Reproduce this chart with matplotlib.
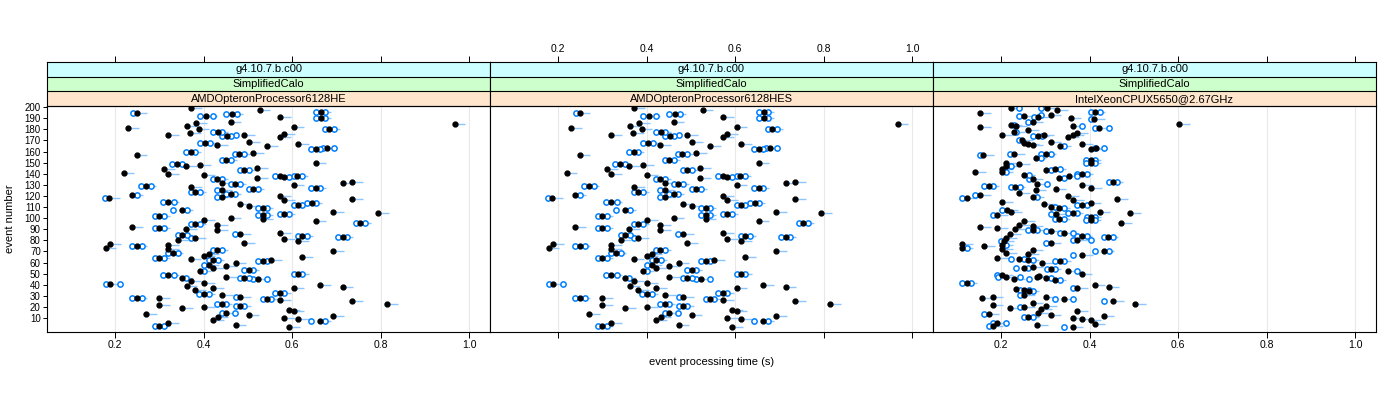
import numpy as np
import matplotlib
matplotlib.use("Agg")
import matplotlib.pyplot as plt

plt.rcParams['font.family'] = ['Liberation Sans', 'DejaVu Sans']

version_label = "g4.10.7.b.c00"
app_label = "SimplifiedCalo"
cpu_labels = ["AMDOpteronProcessor6128HE", "AMDOpteronProcessor6128HES",
              "IntelXeonCPUX5650@2.67GHz"]
x_ticks = [0.2, 0.4, 0.6, 0.8, 1.0]
y_ticks = list(range(10, 201, 10))

# (event, time of black point, left blue circle, right blue circle)
he_rows = [
    (195, 0.249, 0.240, None), (199, 0.372, None, None), (192, 0.406, 0.392, 0.421),
    (194, 0.464, 0.451, 0.475), (187, 0.461, None, None), (197, 0.527, None, None),
    (191, 0.573, None, None), (196, 0.664, 0.653, 0.675), (190, 0.664, 0.653, 0.675),
    (185, 0.967, None, None), (181, 0.230, None, None), (175, 0.320, None, None),
    (183, 0.362, None, None), (186, 0.383, None, None), (177, 0.369, None, None),
    (180, 0.389, None, None), (178, 0.432, 0.421, 0.442), (174, 0.452, 0.442, 0.461),
    (175, 0.492, 0.473, None), (180, 0.684, 0.674, 0.694), (176, 0.582, None, None),
    (173, 0.573, None, None), (182, 0.603, None, None), (168, 0.403, 0.392, 0.415),
    (166, 0.430, None, None), (169, 0.503, None, None), (165, 0.543, None, None),
    (167, 0.613, None, None), (162, 0.653, 0.643, 0.663), (163, 0.678, 0.669, 0.695),
    (157, 0.249, None, None), (160, 0.371, 0.360, 0.381), (158, 0.480, 0.471, 0.492),
    (159, 0.512, None, None), (149, 0.339, 0.328, 0.351), (147, 0.360, None, None),
    (148, 0.392, None, None), (152, 0.451, 0.441, 0.462), (150, 0.653, None, None),
    (141, 0.219, None, None), (144, 0.311, None, None), (140, 0.320, None, None),
    (139, 0.401, None, None), (143, 0.491, 0.481, 0.503), (145, 0.521, None, None),
    (136, 0.521, None, None), (138, 0.573, 0.562, None), (137, 0.582, None, 0.593),
    (138, 0.612, 0.603, 0.623), (135, 0.431, 0.421, 0.442), (132, 0.442, None, None),
    (131, 0.471, 0.461, 0.482), (130, 0.603, None, None), (133, 0.735, None, None),
    (132, 0.714, None, None), (129, 0.269, 0.259, 0.280), (128, 0.372, None, None),
    (124, 0.381, 0.371, 0.392), (126, 0.512, 0.502, 0.522), (127, 0.653, 0.643, 0.663),
    (125, 0.441, 0.431, None), (122, 0.461, 0.451, 0.471), (119, 0.441, 0.431, None),
    (121, 0.239, None, 0.249), (118, 0.187, 0.177, None), (120, 0.573, None, None),
    (116, 0.582, None, None), (112, 0.614, 0.603, 0.623), (114, 0.644, 0.633, 0.654),
    (117, 0.735, None, None), (115, 0.320, 0.309, 0.332), (113, 0.482, None, None),
    (111, 0.503, None, None), (109, 0.533, 0.522, 0.543), (107, 0.351, 0.330, 0.362),
    (106, 0.693, None, None), (105, 0.795, None, None), (104, 0.582, 0.573, 0.593),
    (103, 0.533, 0.522, 0.543), (102, 0.300, 0.290, 0.311), (95, 0.381, 0.371, 0.392),
    (98, 0.401, None, None), (94, 0.431, None, None), (89, 0.431, None, None),
    (100, 0.461, None, None), (99, 0.533, None, None), (97, 0.653, None, None),
    (96, 0.753, 0.744, 0.765), (92, 0.239, None, None), (91, 0.300, 0.290, 0.311),
    (90, 0.360, None, None), (85, 0.351, 0.341, 0.362), (82, 0.381, 0.371, None),
    (80, 0.341, None, None), (86, 0.482, 0.471, None), (78, 0.491, None, None),
    (87, 0.573, None, None), (81, 0.582, None, None), (84, 0.623, 0.613, 0.633),
    (79, 0.613, None, None), (83, 0.714, 0.703, 0.724), (77, 0.189, None, None),
    (73, 0.179, None, None), (75, 0.249, 0.239, 0.260), (76, 0.320, None, None),
    (72, 0.320, None, None), (69, 0.330, 0.320, 0.341), (71, 0.431, 0.421, 0.442),
    (64, 0.300, 0.290, 0.311), (63, 0.371, None, None), (66, 0.401, None, None),
    (68, 0.411, None, None), (62, 0.421, 0.411, 0.432), (58, 0.411, 0.401, None),
    (55, 0.422, None, None), (57, 0.451, None, None), (60, 0.472, None, None),
    (61, 0.533, 0.522, 0.543), (62, 0.552, None, None), (65, 0.622, None, None),
    (70, 0.693, None, None), (53, 0.502, 0.491, 0.512), (52, 0.392, None, 0.401),
    (50, 0.613, 0.603, 0.623), (49, 0.320, 0.309, 0.332), (41, 0.189, 0.179, 0.210),
    (46, 0.351, None, 0.360), (43, 0.371, None, None), (42, 0.401, None, None),
    (47, 0.451, None, None), (46, 0.491, 0.481, 0.502), (45, 0.522, 0.512, 0.543),
    (40, 0.663, None, None), (38, 0.714, None, None), (39, 0.362, None, None),
    (35, 0.381, None, None), (32, 0.401, 0.390, 0.411), (37, 0.421, None, None),
    (31, 0.442, None, None), (29, 0.482, 0.472, None), (33, 0.573, 0.562, 0.582),
    (37, 0.603, None, None), (28, 0.249, 0.239, 0.260), (28, 0.300, None, None),
    (22, 0.300, None, None), (19, 0.351, None, None), (20, 0.401, None, None),
    (23, 0.441, 0.431, 0.451), (21, 0.482, 0.472, 0.491), (27, 0.543, 0.533, 0.552),
    (26, 0.573, None, None), (25, 0.735, None, None), (23, 0.814, None, None),
    (17, 0.593, None, None), (16, 0.603, None, None), (15, 0.451, 0.441, 0.471),
    (14, 0.270, None, None), (13, 0.502, None, None), (8, 0.422, None, None),
    (11, 0.432, None, None), (10, 0.582, None, None), (9, 0.613, None, None),
    (7, 0.663, 0.643, 0.674), (12, 0.693, None, None), (3, 0.300, 0.290, 0.311),
    (6, 0.320, None, None), (4, 0.472, None, None), (2, 0.593, None, None),
]

# the HES machine gives nearly the same times as the HE one
hes_rows = list(he_rows)

xeon_rows = [
    (195, 0.153, None, None), (199, 0.222, None, 0.241), (199, 0.303, 0.290, None),
    (193, 0.312, 0.290, None), (197, 0.327, None, None), (192, 0.252, 0.241, None),
    (187, 0.271, 0.261, None), (191, 0.284, 0.274, None), (190, 0.357, None, None),
    (196, 0.411, 0.402, 0.423), (189, 0.410, 0.402, None), (182, 0.153, None, None),
    (175, 0.202, None, None), (184, 0.222, None, 0.230), (183, 0.234, None, None),
    (178, 0.230, None, 0.234), (179, 0.261, None, None), (174, 0.284, 0.273, 0.293),
    (175, 0.296, None, None), (183, 0.363, None, 0.383), (177, 0.372, None, None),
    (175, 0.363, None, None), (173, 0.351, None, None), (181, 0.422, 0.411, 0.443),
    (185, 0.602, None, None), (170, 0.248, 0.240, None), (168, 0.251, None, None),
    (167, 0.261, None, None), (166, 0.271, None, None), (169, 0.312, None, None),
    (165, 0.333, None, 0.343), (167, 0.383, None, None), (162, 0.402, None, None),
    (163, 0.415, 0.411, 0.433), (157, 0.160, 0.152, None), (158, 0.230, 0.221, None),
    (158, 0.301, 0.290, 0.312), (152, 0.402, 0.391, 0.413), (154, 0.278, None, 0.290),
    (147, 0.211, None, 0.222), (150, 0.211, None, None), (149, 0.241, None, None),
    (142, 0.142, None, None), (142, 0.202, None, 0.211), (144, 0.202, None, None),
    (139, 0.252, None, 0.262), (135, 0.271, 0.262, None), (131, 0.282, None, 0.303),
    (143, 0.302, None, 0.312), (144, 0.322, None, 0.332), (136, 0.331, None, 0.342),
    (138, 0.353, None, 0.372), (140, 0.383, 0.372, 0.393), (150, 0.402, 0.391, 0.413),
    (133, 0.452, 0.443, 0.462), (130, 0.383, None, None), (127, 0.403, None, None),
    (129, 0.172, 0.161, 0.182), (121, 0.152, 0.142, None), (118, 0.122, 0.112, None),
    (128, 0.231, 0.222, 0.243), (123, 0.241, None, None), (125, 0.278, None, None),
    (119, 0.273, None, 0.282), (126, 0.323, None, None), (115, 0.202, None, None),
    (113, 0.297, None, None), (120, 0.352, None, None), (116, 0.363, None, None),
    (112, 0.382, 0.372, 0.393), (114, 0.402, None, None), (117, 0.462, None, None),
    (107, 0.213, 0.202, None), (106, 0.222, None, None), (110, 0.312, None, 0.322),
    (109, 0.331, None, 0.342), (104, 0.323, 0.312, None), (105, 0.362, 0.352, 0.372),
    (106, 0.423, None, None), (105, 0.491, None, None), (103, 0.191, 0.182, None),
    (101, 0.402, 0.393, 0.413), (98, 0.402, 0.391, 0.413), (96, 0.471, None, None),
    (99, 0.331, 0.322, 0.342), (92, 0.152, None, None), (91, 0.191, None, None),
    (90, 0.231, None, None), (97, 0.252, None, None), (94, 0.241, None, None),
    (93, 0.271, None, None), (89, 0.271, 0.261, 0.282), (88, 0.312, 0.302, None),
    (87, 0.342, 0.332, 0.363), (84, 0.382, 0.372, 0.393), (80, 0.372, 0.362, 0.402),
    (83, 0.441, 0.432, 0.452), (86, 0.221, None, None), (82, 0.211, None, None),
    (79, 0.206, 0.199, None), (77, 0.112, None, None), (73, 0.112, None, 0.122),
    (75, 0.161, None, None), (76, 0.202, None, 0.211), (72, 0.202, None, None),
    (69, 0.211, None, None), (78, 0.312, 0.302, None), (71, 0.271, None, None),
    (70, 0.432, 0.411, 0.443), (67, 0.383, 0.362, None), (64, 0.191, None, None),
    (63, 0.241, 0.222, 0.252), (68, 0.261, None, None), (62, 0.261, None, 0.271),
    (60, 0.293, None, None), (61, 0.333, 0.322, 0.343), (55, 0.251, 0.234, 0.261),
    (56, 0.271, None, None), (54, 0.312, 0.303, 0.322), (52, 0.352, None, 0.372),
    (50, 0.382, None, None), (49, 0.202, 0.191, None), (48, 0.286, None, None),
    (42, 0.122, 0.112, 0.131), (47, 0.211, 0.193, 0.243), (45, 0.230, None, 0.262),
    (47, 0.282, None, None), (46, 0.302, None, 0.312), (44, 0.322, None, 0.332),
    (40, 0.411, None, None), (38, 0.443, None, None), (37, 0.372, 0.363, None),
    (36, 0.234, None, None), (35, 0.252, 0.243, 0.262), (34, 0.262, None, 0.271),
    (31, 0.252, 0.243, None), (29, 0.302, None, None), (27, 0.342, 0.321, 0.362),
    (28, 0.157, None, None), (29, 0.181, None, None), (22, 0.181, None, None),
    (19, 0.221, None, None), (20, 0.252, 0.243, None), (24, 0.271, None, None),
    (21, 0.302, None, None), (18, 0.291, None, None), (25, 0.453, 0.432, None),
    (23, 0.503, None, None), (16, 0.372, None, None), (14, 0.172, 0.161, None),
    (11, 0.261, 0.252, 0.271), (15, 0.284, None, None), (13, 0.312, None, None),
    (10, 0.362, None, None), (9, 0.382, None, None), (8, 0.402, None, None),
    (5, 0.411, None, None), (12, 0.432, None, None), (6, 0.191, 0.182, 0.211),
    (3, 0.181, 0.172, None), (4, 0.282, None, None), (2, 0.362, 0.342, None),
]

panel_rows = [he_rows, hes_rows, xeon_rows]

W, H = 1400, 400
left0, pw = 47, 443
top, bottom = 106, 332
strip_top = 62

blue = "#0080ff"
light_blue = "#8cc6ff"
strip_cols = ["#ffe5cc", "#ccffcc", "#ccffff"]

fig = plt.figure(figsize=(W / 100, H / 100), dpi=100)

for i, rows in enumerate(panel_rows):
    arr = np.array([[np.nan if v is None else v for v in r] for r in rows], dtype=float)
    ev, t, lo, hi = arr[:, 0], arr[:, 1], arr[:, 2], arr[:, 3]

    ax = fig.add_axes([(left0 + i * pw) / W, (H - bottom) / H, pw / W, (bottom - top) / H])
    ax.set_xlim(0.046, 1.047)
    ax.set_ylim(-2.5, 201)
    for g in x_ticks:
        ax.axvline(g, color="#e8e8e8", lw=0.8, zorder=0)
    ax.hlines(ev, t - 0.006, t + 0.024, color=light_blue, lw=1.0, zorder=1)
    ax.plot(lo, ev, "o", ms=3.8, mfc="white", mec=blue, mew=1.1, ls="none", zorder=2)
    ax.plot(hi, ev, "o", ms=3.8, mfc="white", mec=blue, mew=1.1, ls="none", zorder=2)
    ax.plot(t, ev, "o", ms=3.5, color="black", mec="black", ls="none", zorder=3)

    ax.set_xticks(x_ticks)
    ax.tick_params(axis="both", direction="out", length=4, width=0.7, labelsize=7.5, pad=2)
    if i == 1:
        ax.set_xticklabels([])
    else:
        ax.set_xticklabels(["%.1f" % v for v in x_ticks])
    ax.set_yticks(y_ticks)
    if i == 0:
        ax.set_yticklabels([str(v) for v in y_ticks], fontsize=7)
        ax.tick_params(axis="y", length=3, pad=1.5)
    else:
        ax.tick_params(axis="y", left=False, labelleft=False)
    for s in ax.spines.values():
        s.set_linewidth(0.8)

    # strips above the panel
    sax = fig.add_axes([(left0 + i * pw) / W, (H - top) / H, pw / W, (top - strip_top) / H])
    sax.set_xlim(0.046, 1.047)
    sax.set_ylim(0, 3)
    labels = [cpu_labels[i], app_label, version_label]
    for k in range(3):
        sax.axhspan(k, k + 1, color=strip_cols[k], zorder=0)
        sax.axhline(k, color="black", lw=0.8, zorder=1)
        sax.text(0.5, (k + 0.5) / 3, labels[k], transform=sax.transAxes,
                 ha="center", va="center", fontsize=8)
    sax.set_yticks([])
    sax.xaxis.tick_top()
    sax.set_xticks(x_ticks)
    sax.tick_params(axis="x", direction="out", length=4, width=0.7, labelsize=7.5, pad=2)
    if i == 1:
        sax.set_xticklabels(["%.1f" % v for v in x_ticks])
    else:
        sax.set_xticklabels([])
    sax.tick_params(axis="x", bottom=False, labelbottom=False)
    for s in sax.spines.values():
        s.set_linewidth(0.8)

fig.text((left0 + 1.5 * pw) / W, (H - 362) / H, "event processing time (s)",
         ha="center", va="center", fontsize=8)
fig.text(10 / W, (H - (top + bottom) / 2) / H, "event number", rotation=90,
         ha="center", va="center", fontsize=8)

fig.savefig("out.png", dpi=100)
